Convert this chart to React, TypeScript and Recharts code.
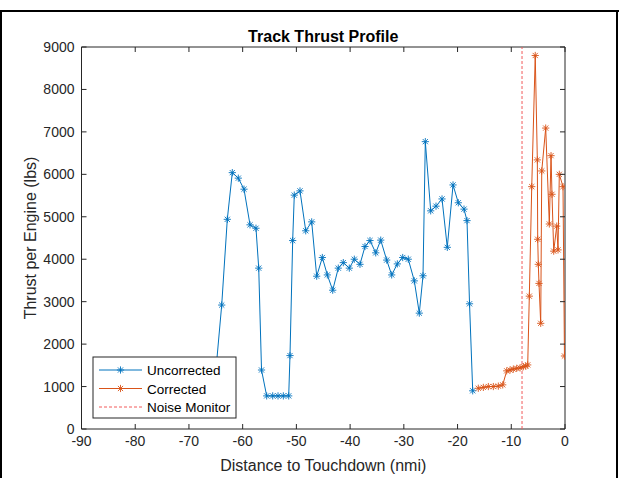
import { LineChart, Line, XAxis, YAxis, ReferenceLine, ReferenceArea } from 'recharts';

// Uncorrected thrust samples (nmi to touchdown, lbs per engine)
const uncorrectedDist = [
  -64.9, -63.9, -62.86, -61.93, -60.81, -59.75, -58.63, -57.52, -57.01, -56.49,
  -55.53, -54.41, -53.42, -52.43, -51.43, -51.19, -50.69, -50.39, -49.33, -48.26,
  -47.15, -46.22, -45.17, -44.24, -43.24, -42.2, -41.27, -40.15, -39.22, -38.16,
  -37.23, -36.3, -35.23, -34.3, -33.19, -32.26, -31.21, -30.21, -29.17, -28.05,
  -27.12, -26.43, -26.0, -25.0, -24.01, -22.89, -21.91, -20.84, -19.86, -18.8,
  -18.24, -17.77, -17.18,
];
const uncorrectedThrust = [
  1500, 2920, 4940, 6040, 5910, 5650, 4810, 4730, 3790, 1390,
  780, 780, 780, 780, 780, 1730, 4440, 5510, 5610, 4670,
  4880, 3600, 4040, 3630, 3270, 3790, 3920, 3790, 4000, 3880,
  4300, 4440, 4150, 4450, 3980, 3630, 3890, 4040, 4000, 3490,
  2730, 3610, 6770, 5140, 5250, 5420, 4280, 5750, 5330, 5180,
  4910, 2950, 900,
];

// Corrected thrust samples
const correctedDist = [
  -16.14, -15.2, -14.27, -13.34, -12.41, -11.59, -10.85, -10.23, -9.62, -8.99,
  -8.37, -7.76, -7.31, -6.94, -6.64, -6.19, -5.54, -5.15, -5.08, -4.97,
  -4.84, -4.52, -4.33, -3.59, -2.92, -2.6, -2.42, -2.1, -1.54, -1.3,
  -1.06, -0.37, -0.1,
];
const correctedThrust = [
  960, 980, 1000, 1000, 1010, 1040, 1370, 1390, 1410, 1430,
  1440, 1470, 1480, 1510, 3130, 5710, 8800, 6340, 4470, 3880,
  3430, 2490, 6080, 7090, 4830, 6440, 5530, 4190, 4780, 4220,
  6000, 5710, 1720,
];

const noiseMonitorDist = -8.0;

const xTicks = [-90, -80, -70, -60, -50, -40, -30, -20, -10, 0];
const yTicks = [0, 1000, 2000, 3000, 4000, 5000, 6000, 7000, 8000, 9000];

const uncorrectedData = uncorrectedDist.map((d, i) => ({ d, thrust: uncorrectedThrust[i] }));
const correctedData = correctedDist.map((d, i) => ({ d, thrust: correctedThrust[i] }));

const W = 619;
const H = 478;
const PLOT = { left: 81.5, right: 565, top: 47, bottom: 429 };
const FONT = '"Liberation Sans", Arial, Helvetica, sans-serif';
const AXIS = '#262626';
const BLUE = '#0072BD';
const ORANGE = '#D95319';
const RED = '#f25a5a';

// MATLAB-style '*' marker
function Star({ cx, cy, color, r = 3.6 }: { cx: number; cy: number; color: string; r?: number }) {
  const k = r * 0.72;
  return (
    <g stroke={color} strokeWidth={0.9}>
      <line x1={cx - r} y1={cy} x2={cx + r} y2={cy} />
      <line x1={cx} y1={cy - r} x2={cx} y2={cy + r} />
      <line x1={cx - k} y1={cy - k} x2={cx + k} y2={cy + k} />
      <line x1={cx - k} y1={cy + k} x2={cx + k} y2={cy - k} />
    </g>
  );
}

const XTick = (props: any) => {
  const { x, payload } = props;
  return (
    <g>
      <line x1={x} x2={x} y1={PLOT.bottom} y2={PLOT.bottom - 5} stroke={AXIS} />
      <line x1={x} x2={x} y1={PLOT.top} y2={PLOT.top + 5} stroke={AXIS} />
      <text x={x} y={PLOT.bottom + 17} textAnchor="middle" fontSize={14} fontFamily={FONT} fill={AXIS}>
        {payload.value}
      </text>
    </g>
  );
};

const YTick = (props: any) => {
  const { y, payload } = props;
  return (
    <g>
      <line x1={PLOT.left} x2={PLOT.left + 5} y1={y} y2={y} stroke={AXIS} />
      <line x1={PLOT.right} x2={PLOT.right - 5} y1={y} y2={y} stroke={AXIS} />
      <text x={PLOT.left - 7} y={y + 5} textAnchor="end" fontSize={14} fontFamily={FONT} fill={AXIS}>
        {payload.value}
      </text>
    </g>
  );
};

const legendItems = [
  { label: 'Uncorrected', color: BLUE, marker: true },
  { label: 'Corrected', color: ORANGE, marker: true },
  { label: 'Noise Monitor', color: RED, marker: false },
];

export default function App() {
  return (
    <div style={{ position: 'fixed', left: 0, top: 0, width: W, height: H, background: '#fff' }}>
      <LineChart width={W} height={H} margin={{ top: PLOT.top, right: W - PLOT.right, bottom: 0, left: 0.5 }}>
        <XAxis
          dataKey="d"
          type="number"
          domain={[-90, 0]}
          ticks={xTicks}
          allowDataOverflow
          height={H - PLOT.bottom}
          axisLine={false}
          tickLine={false}
          tick={XTick}
          interval={0}
        />
        <YAxis
          type="number"
          domain={[0, 9000]}
          ticks={yTicks}
          allowDataOverflow
          width={81}
          axisLine={false}
          tickLine={false}
          tick={YTick}
          interval={0}
        />
        <ReferenceArea x1={-90} x2={0} y1={0} y2={9000} fill="none" stroke={AXIS} strokeWidth={1} />
        <Line
          data={uncorrectedData}
          dataKey="thrust"
          stroke={BLUE}
          strokeWidth={1}
          isAnimationActive={false}
          dot={(p: any) => <Star key={`u-${p.index}`} cx={p.cx} cy={p.cy} color={BLUE} />}
          activeDot={false}
        />
        <Line
          data={correctedData}
          dataKey="thrust"
          stroke={ORANGE}
          strokeWidth={1}
          isAnimationActive={false}
          dot={(p: any) => <Star key={`c-${p.index}`} cx={p.cx} cy={p.cy} color={ORANGE} />}
          activeDot={false}
        />
        <ReferenceLine x={noiseMonitorDist} stroke={RED} strokeWidth={1} strokeDasharray="3 2" />
      </LineChart>

      {/* title, axis labels, legend and outer frame */}
      <svg width={W} height={H} style={{ position: 'absolute', left: 0, top: 0, pointerEvents: 'none' }}>
        <line x1={0} y1={11} x2={W} y2={11} stroke="#000" strokeWidth={2} />
        <line x1={1} y1={11} x2={1} y2={H} stroke="#000" strokeWidth={2} />
        <line x1={617} y1={11} x2={617} y2={H} stroke="#000" strokeWidth={2} />

        <text x={(PLOT.left + PLOT.right) / 2} y={42} textAnchor="middle" fontSize={16} fontWeight="bold" fontFamily={FONT} fill="#000">
          Track Thrust Profile
        </text>
        <text x={(PLOT.left + PLOT.right) / 2} y={471} textAnchor="middle" fontSize={16} fontFamily={FONT} fill={AXIS}>
          Distance to Touchdown (nmi)
        </text>
        <text
          x={0}
          y={0}
          transform={`translate(36, ${(PLOT.top + PLOT.bottom) / 2}) rotate(-90)`}
          textAnchor="middle"
          fontSize={16}
          fontFamily={FONT}
          fill={AXIS}
        >
          Thrust per Engine (lbs)
        </text>

        <rect x={93} y={357} width={143} height={61} fill="#fff" stroke={AXIS} strokeWidth={1} />
        {legendItems.map((item, i) => {
          const y = 370 + i * 18.5;
          return (
            <g key={item.label}>
              {item.marker ? (
                <>
                  <line x1={99} x2={142} y1={y} y2={y} stroke={item.color} strokeWidth={1} />
                  <Star cx={120.5} cy={y} color={item.color} />
                </>
              ) : (
                <line x1={99} x2={142} y1={y} y2={y} stroke={item.color} strokeWidth={1} strokeDasharray="3 2" />
              )}
              <text x={147} y={y + 5} fontSize={13.5} fontFamily={FONT} fill="#000">
                {item.label}
              </text>
            </g>
          );
        })}
      </svg>
    </div>
  );
}
